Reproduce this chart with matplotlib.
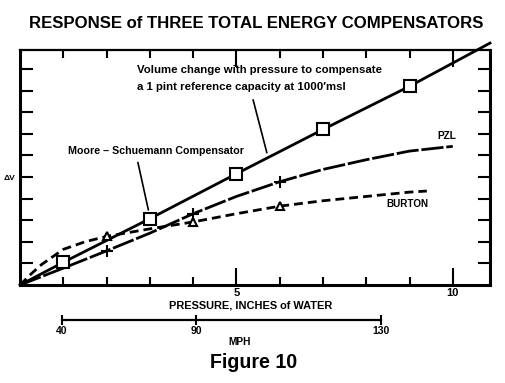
import matplotlib
matplotlib.use("Agg")
import matplotlib.pyplot as plt
import matplotlib.transforms as mtransforms

# ---- data ----
volume_x = [0, 1, 3, 5, 7, 9, 10.86]
volume_y = [0, 1.05, 3.07, 5.15, 7.2, 9.2, 11.2]
moore_x = [1, 3, 5, 7, 9]
moore_y = [1.05, 3.07, 5.15, 7.2, 9.2]

pzl_x = [0, 1, 2, 3, 4, 5, 6, 7, 8, 9, 10]
pzl_y = [0, 0.78, 1.58, 2.4, 3.3, 4.1, 4.78, 5.35, 5.8, 6.2, 6.42]
pzl_mx = [2, 4, 6]
pzl_my = [1.58, 3.3, 4.78]

burton_x = [0, 0.25, 0.5, 1, 1.5, 2, 3, 4, 5, 6, 7, 8, 9, 9.4]
burton_y = [0, 0.5, 0.95, 1.65, 2.0, 2.25, 2.6, 2.92, 3.3, 3.65, 3.9, 4.1, 4.3, 4.35]
burton_mx = [2, 4, 6]
burton_my = [2.25, 2.92, 3.65]

x_major = [5, 10]
x_minor = [1, 2, 3, 4, 6, 7, 8, 9]
y_ticks = [1, 2, 3, 4, 5, 6, 7, 8, 9, 10]

mph_labels = ["40", "90", "130"]
mph_pos = [0.97, 4.07, 8.33]

FONT = ["Liberation Sans", "DejaVu Sans"]
plt.rcParams["font.family"] = FONT

fig = plt.figure(figsize=(5.05, 3.83), dpi=100)
W, H = 505, 383
L, R, T, B = 20, 490, 50, 285
ax = fig.add_axes([L / W, 1 - B / H, (R - L) / W, (B - T) / H])
ax.set_xlim(0, 10.86)
ax.set_ylim(0, 10.88)

ax.plot(volume_x, volume_y, color="black", lw=2.0, clip_on=False)
ax.plot(moore_x, moore_y, ls="none", marker="s", ms=8, mfc="white",
        mec="black", mew=1.5, zorder=5)
ax.plot(pzl_x, pzl_y, color="black", lw=2.0, ls=(0, (8, 1)))
ax.plot(pzl_mx, pzl_my, ls="none", marker="+", ms=9, mec="black", mew=1.5,
        zorder=5)
ax.plot(burton_x, burton_y, color="black", lw=2.0, ls=(0, (3.2, 1.8)))
ax.plot(burton_mx, burton_my, ls="none", marker="^", ms=6, mfc="white",
        mec="black", mew=1.5, zorder=5)

for s in ["left", "bottom", "right"]:
    ax.spines[s].set_linewidth(2.2)
ax.spines["top"].set_linewidth(1.6)

ax.set_xticks(x_major)
ax.set_xticklabels([str(v) for v in x_major], fontsize=8, fontweight="bold")
ax.set_xticks(x_minor, minor=True)
ax.set_yticks(y_ticks)
ax.set_yticklabels(["" if v != 5 else "\u0394V" for v in y_ticks],
                   fontsize=6, fontweight="bold")
ax.tick_params(axis="x", which="major", direction="in", length=12, width=1.5,
               top=True, pad=2)
ax.tick_params(axis="x", which="minor", direction="in", length=6, width=1.5,
               top=True)
ax.tick_params(axis="y", which="major", direction="in", length=9, width=1.5,
               right=True, pad=3)

texts_fit = []

xl = fig.text(251 / W, 1 - 306 / H, "PRESSURE, INCHES of WATER",
              ha="center", va="center", fontsize=8.5, fontweight="bold")
texts_fit.append((xl, 162))

# annotations
t1 = ax.text(2.70, 9.95, "Volume change with pressure to compensate",
             fontsize=7, fontweight="bold", va="center", ha="left")
texts_fit.append((t1, 244))
t2 = ax.text(2.70, 9.15, "a 1 pint reference capacity at 1000\u2032msl",
             fontsize=7, fontweight="bold", va="center", ha="left")
texts_fit.append((t2, 208))
ax.annotate("", xy=(5.72, 6.0), xytext=(5.37, 8.7),
            arrowprops=dict(arrowstyle="-", color="black", lw=1.2))
t3 = ax.text(1.1, 6.2, "Moore \u2013 Schuemann Compensator",
             fontsize=7, fontweight="bold", va="center", ha="left")
texts_fit.append((t3, 175))
ax.annotate("", xy=(2.98, 3.35), xytext=(2.71, 5.8),
            arrowprops=dict(arrowstyle="-", color="black", lw=1.2))
t4 = ax.text(9.86, 6.9, "PZL", fontsize=7, fontweight="bold", va="center",
             ha="center")
texts_fit.append((t4, 19))
t5 = ax.text(8.94, 3.77, "BURTON", fontsize=7, fontweight="bold",
             va="center", ha="center")
texts_fit.append((t5, 42))

# MPH scale
tr = mtransforms.blended_transform_factory(ax.transData, ax.transAxes)
ybar = -(320 - B) / (B - T)
ax.plot([mph_pos[0], mph_pos[-1]], [ybar, ybar], color="black", lw=1.6,
        transform=tr, clip_on=False)
ax.plot(mph_pos, [ybar] * len(mph_pos), ls="none", marker="|", ms=7,
        mew=1.5, color="black", transform=tr, clip_on=False)
for p, lab in zip(mph_pos, mph_labels):
    ax.text(p, ybar - 0.025, lab, transform=tr, ha="center", va="top",
            fontsize=7.5, fontweight="bold")
mph = fig.text(240 / W, 1 - 342 / H, "MPH", ha="center", va="center",
               fontsize=7.5, fontweight="bold")
texts_fit.append((mph, 23))
fg = fig.text(254 / W, 1 - 362 / H, "Figure 10", ha="center", va="center",
              fontsize=15, fontweight="bold")
texts_fit.append((fg, 88))

ttl = fig.text(256 / W, 1 - 23 / H,
               "RESPONSE of THREE TOTAL ENERGY COMPENSATORS",
               ha="center", va="center", fontsize=15, fontweight="bold")
texts_fit.append((ttl, 455))

fig.canvas.draw()
renderer = fig.canvas.get_renderer()
for t, target in texts_fit:
    w = t.get_window_extent(renderer).width
    if w > 0:
        t.set_fontsize(t.get_fontsize() * target / w)

fig.savefig("out.png", dpi=100)
